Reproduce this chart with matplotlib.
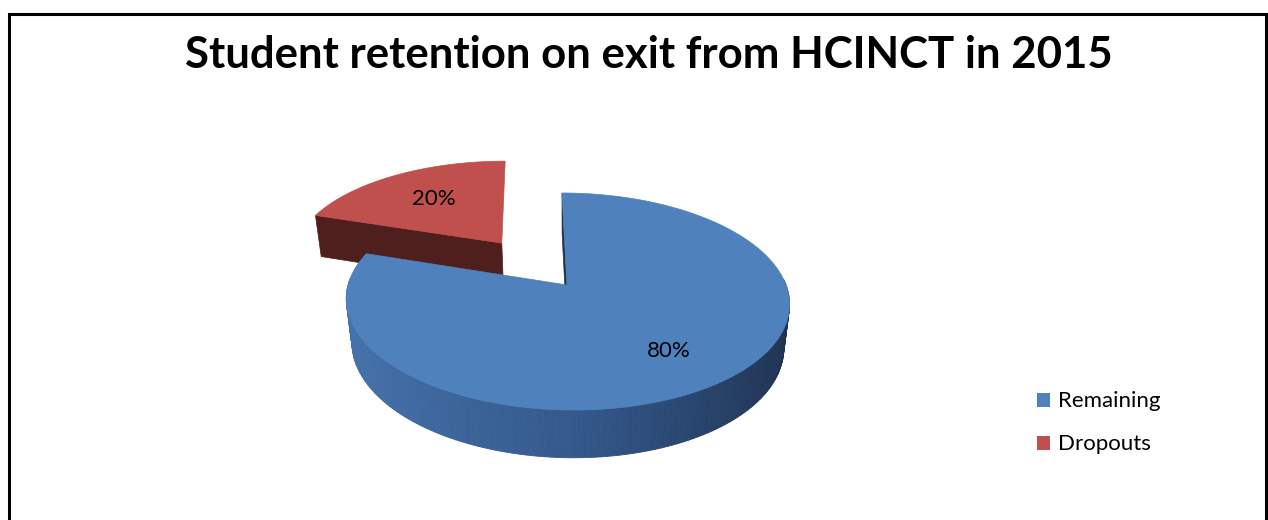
import numpy as np
import matplotlib
matplotlib.use("Agg")
import matplotlib.pyplot as plt
from matplotlib.patches import Polygon, Rectangle
from matplotlib.colors import to_rgb

# data
labels = ["Remaining", "Dropouts"]
values = [80, 20]
explode = [0.0, 0.52]
top_colors = ["#4F81BD", "#C0504D"]

# 3D pie projection (pixel space, y downward)
X0, Y0 = 567, 285
A, B, C = 219, 106, -5.8
K, KZ, DZ = 0.152, 0.026, 45


def proj(u, v, z):
    s = 1.0 / (1 + K * v + KZ * z)
    return X0 + (A * u + C * v) * s, Y0 + (-B * v + DZ * z) * s


def mix(c1, c2, t):
    c1, c2 = np.array(to_rgb(c1)), np.array(to_rgb(c2))
    return tuple(c1 + (c2 - c1) * t)


def side_color(theta):
    t = (np.cos(theta) + 1) / 2
    if t < 0.5:
        return mix("#4672AB", "#34598C", t / 0.5)
    return mix("#34598C", "#1E314F", (t - 0.5) / 0.5)


def radial_face(cu, cv, t):
    return [proj(cu, cv, 0), proj(cu + np.cos(t), cv + np.sin(t), 0),
            proj(cu + np.cos(t), cv + np.sin(t), 1), proj(cu, cv, 1)]


fig = plt.figure(figsize=(12.68, 5.2), dpi=100)
ax = fig.add_axes([0, 0, 1, 1])
ax.set_xlim(0, 1268)
ax.set_ylim(520, 0)
ax.axis("off")

# slice angles: start at 12 o'clock, clockwise
total = sum(values)
starts, ends = [], []
a0 = 90.0
for v in values:
    starts.append(a0)
    a0 -= 360.0 * v / total
    ends.append(a0)

# draw dropouts (back) first, then remaining
for i in [1, 0]:
    th = np.radians(np.linspace(starts[i], ends[i], 200))
    mid = np.radians((starts[i] + ends[i]) / 2)
    cu, cv = explode[i] * np.cos(mid), explode[i] * np.sin(mid)

    if i == 1:
        # front cut face along the left edge
        ax.add_patch(Polygon(radial_face(cu, cv, np.radians(starts[i])), closed=True,
                             fc="#4F1F1D", ec="#4F1F1D", lw=0.5))
    else:
        # thin sliver at 12 o'clock edge
        ax.add_patch(Polygon(radial_face(cu, cv, np.radians(starts[i])), closed=True,
                             fc="#1F3350", ec="#1F3350", lw=0.5))
        # outer side, front part, as gradient strips
        for t1, t2 in zip(th[:-1], th[1:]):
            if np.sin(t1) > 0.05 and np.sin(t2) > 0.05:
                continue
            col = side_color((t1 + t2) / 2)
            pts = [proj(cu + np.cos(t1), cv + np.sin(t1), 0),
                   proj(cu + np.cos(t2), cv + np.sin(t2), 0),
                   proj(cu + np.cos(t2), cv + np.sin(t2), 1),
                   proj(cu + np.cos(t1), cv + np.sin(t1), 1)]
            ax.add_patch(Polygon(pts, closed=True, fc=col, ec=col, lw=0.6))

    top = [proj(cu, cv, 0)] + [proj(cu + np.cos(t), cv + np.sin(t), 0) for t in th]
    ax.add_patch(Polygon(top, closed=True, fc=top_colors[i], ec=top_colors[i], lw=0.5))

    # percentage label
    r = 0.7 if i == 0 else 0.62
    lx, ly = proj(cu + r * np.cos(mid), cv + r * np.sin(mid), 0)
    ax.text(lx, ly, f"{values[i] * 100 // total}%", ha="center", va="center",
            fontsize=16, family="Lato", color="black")

# title
ax.text(649, 68, "Student retention on exit from HCINCT in 2015", ha="center",
        va="baseline", fontsize=31.5, fontweight="bold", family="Lato")

# legend
for j, (lab, col) in enumerate(zip(labels, top_colors)):
    y = 400 + 43 * j
    ax.add_patch(Rectangle((1037, y - 7), 13, 14, fc=col, ec="none"))
    ax.text(1058, y + 1, lab, ha="left", va="center", fontsize=16, family="Lato")

# chart border
ax.plot([9, 9, 1265.5, 1265.5], [525, 14, 14, 525], color="black", lw=2.2,
        solid_joinstyle="miter")

fig.savefig("out.png", dpi=100)
